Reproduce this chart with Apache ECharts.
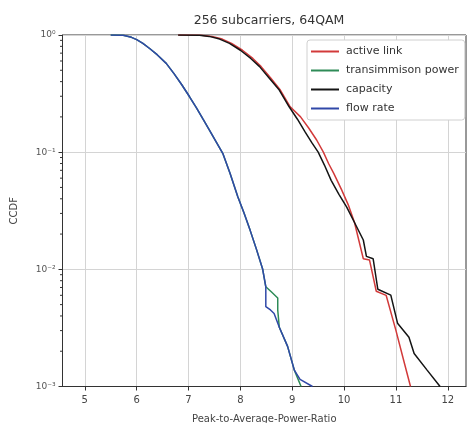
<!DOCTYPE html>
<html><head><meta charset="utf-8">
<script src="https://cdn.jsdelivr.net/npm/echarts@6/dist/echarts.min.js"></script>
<style>html,body{margin:0;padding:0;background:#fff}#c{width:470px;height:423px}</style>
</head><body><div id="c"></div>
<script>
// ---- data ----
const titleText = '256 subcarriers, 64QAM';
const xName = 'Peak-to-Average-Power-Ratio';
const yName = 'CCDF';
const xTicks = [5, 6, 7, 8, 9, 10, 11, 12];
const yTicks = [0.001, 0.01, 0.1, 1];
const yTickLabels = ['10\u207B\u00B3', '10\u207B\u00B2', '10\u207B\u00B9', '10\u2070'];
const yMinorTicks = [0.002,0.003,0.004,0.005,0.006,0.007,0.008,0.009,
                     0.02,0.03,0.04,0.05,0.06,0.07,0.08,0.09,
                     0.2,0.3,0.4,0.5,0.6,0.7,0.8,0.9];
const seriesNames = ['active link', 'transimmison power', 'capacity', 'flow rate'];

const activeLink = [[6.8,1],[7.25,0.995],[7.45,0.973],[7.65,0.923],[7.83,0.849],[8.04,0.741],[8.24,0.631],[8.4,0.537],[8.58,0.432],[8.77,0.339],[8.96,0.244],[9.16,0.2],[9.32,0.16],[9.47,0.127],[9.6,0.1],[9.7,0.08],[9.8,0.066],[9.95,0.0479],[10.08,0.0355],[10.2,0.0251],[10.37,0.0123],[10.49,0.0120],[10.62,0.0065],[10.81,0.0060],[11.0,0.0030],[11.15,0.00166],[11.28,0.001]];
const transPower = [[5.5,1],[5.74,0.995],[5.9,0.955],[6.0,0.912],[6.12,0.849],[6.25,0.767],[6.4,0.676],[6.57,0.573],[6.72,0.468],[6.87,0.376],[7.02,0.297],[7.15,0.240],[7.28,0.191],[7.4,0.155],[7.53,0.123],[7.66,0.0977],[7.8,0.066],[7.95,0.0417],[8.07,0.0302],[8.19,0.0214],[8.31,0.0148],[8.43,0.010],[8.49,0.0071],[8.6,0.0064],[8.72,0.0057],[8.72,0.0045],[8.75,0.0032],[8.91,0.0022],[9.04,0.00138],[9.17,0.001]];
const capacity = [[6.8,1],[7.21,0.995],[7.4,0.973],[7.6,0.923],[7.79,0.849],[8.0,0.741],[8.2,0.631],[8.37,0.537],[8.55,0.432],[8.75,0.339],[8.94,0.244],[9.1,0.191],[9.25,0.148],[9.38,0.120],[9.5,0.1],[9.62,0.0776],[9.75,0.0575],[9.9,0.0437],[10.05,0.0339],[10.2,0.0251],[10.37,0.0178],[10.43,0.0129],[10.56,0.0123],[10.65,0.00676],[10.9,0.00603],[11.03,0.00347],[11.25,0.00263],[11.35,0.00191],[11.6,0.00138],[11.85,0.001]];
const flowRate = [[5.5,1],[5.74,0.995],[5.9,0.955],[6.0,0.912],[6.12,0.849],[6.25,0.767],[6.4,0.676],[6.57,0.573],[6.72,0.468],[6.87,0.376],[7.02,0.297],[7.15,0.240],[7.28,0.191],[7.4,0.155],[7.53,0.123],[7.66,0.0977],[7.8,0.066],[7.95,0.0417],[8.07,0.0302],[8.19,0.0214],[8.31,0.0148],[8.43,0.010],[8.49,0.0071],[8.49,0.0048],[8.58,0.0045],[8.65,0.0042],[8.75,0.0032],[8.91,0.0022],[9.04,0.00138],[9.15,0.00115],[9.39,0.001]];
const seriesData = [activeLink, transPower, capacity, flowRate];
const seriesColors = ['#d23a3a', '#2e8b57', '#141414', '#3048a8'];

const X_MIN = 4.57, X_MAX = 12.35;

const chart = echarts.init(document.getElementById('c'), null, {renderer: 'canvas'});
const font = 'DejaVu Sans';
const series = seriesData.map((d, i) => ({
  name: seriesNames[i], type: 'line', data: d, symbol: 'none',
  lineStyle: {color: seriesColors[i], width: 1.5}, itemStyle: {color: seriesColors[i]},
  animation: false, z: 3 + i
}));
series.push({
  type: 'custom', name: 'minor', silent: true, clip: false, animation: false,
  data: yMinorTicks.map(v => [X_MIN, v]),
  renderItem: (params, api) => {
    const p = api.coord([api.value(0), api.value(1)]);
    return {type: 'line', shape: {x1: p[0] - 2.5, y1: p[1], x2: p[0], y2: p[1]},
            style: {stroke: '#333', lineWidth: 1}};
  }
});
chart.setOption({
  backgroundColor: '#fff',
  animation: false,
  title: {text: titleText, left: 264, top: 9, textAlign: 'center',
          textStyle: {fontFamily: font, fontSize: 12.5, fontWeight: 'normal', color: '#333'}},
  grid: {left: 62.5, right: 4, top: 35, bottom: 36.5, show: true, borderColor: '#333', borderWidth: 1,
         containLabel: false, outerBoundsMode: 'none'},
  legend: {
    data: seriesNames, orient: 'vertical', left: 307, top: 40, icon: 'rect',
    backgroundColor: '#fff', borderColor: '#d0d0d0', borderWidth: 1, borderRadius: 3,
    padding: [6, 6, 6, 4], itemWidth: 28, itemHeight: 2, itemGap: 8,
    textStyle: {fontFamily: font, fontSize: 11, color: '#333', padding: [0, 0, 0, 2]}
  },
  xAxis: {
    type: 'value', min: X_MIN, max: X_MAX,
    name: xName, nameLocation: 'middle', nameGap: 28,
    nameTextStyle: {fontFamily: font, fontSize: 10, color: '#444'},
    axisLine: {show: true, onZero: false, lineStyle: {color: '#333'}},
    axisTick: {show: true, length: 4, customValues: xTicks, lineStyle: {color: '#333'}},
    axisLabel: {customValues: xTicks, margin: 9, fontFamily: font, fontSize: 10, color: '#444'},
    splitLine: {show: true, lineStyle: {color: '#d4d4d4', width: 1}}
  },
  yAxis: {
    type: 'log', logBase: 10, min: 0.001, max: 1,
    name: yName, nameLocation: 'middle', nameGap: 43, nameRotate: 90,
    nameTextStyle: {fontFamily: font, fontSize: 10, color: '#444'},
    axisLine: {show: true, lineStyle: {color: '#333'}},
    axisTick: {show: true, length: 4, customValues: yTicks, lineStyle: {color: '#333'}},
    axisLabel: {customValues: yTicks, margin: 7, fontFamily: font, fontSize: 9, color: '#555',
      formatter: v => { const i = yTicks.findIndex(t => Math.abs(Math.log10(t) - Math.log10(v)) < 1e-6); return i >= 0 ? yTickLabels[i] : ''; }},
    splitLine: {show: true, lineStyle: {color: '#d4d4d4', width: 1}}
  },
  series: series
});
</script></body></html>
